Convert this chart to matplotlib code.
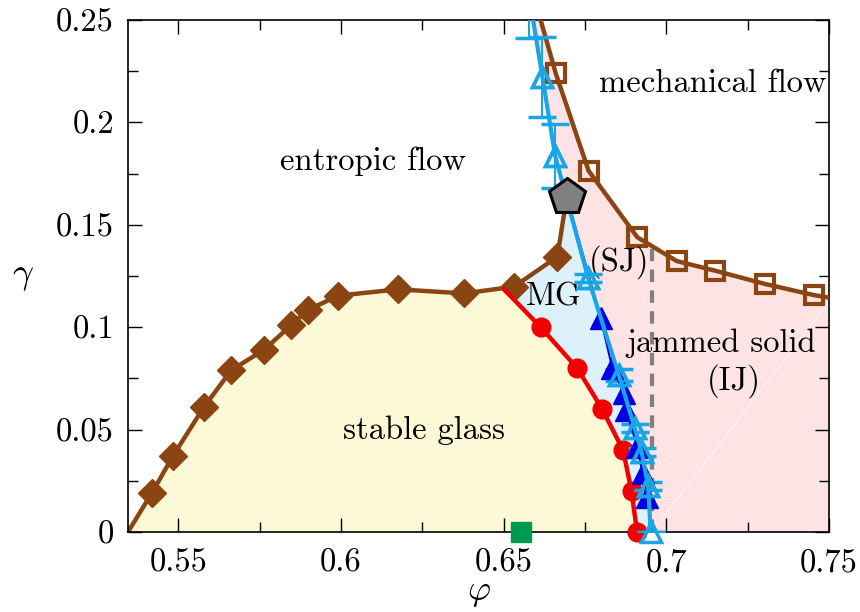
import numpy as np
import matplotlib
matplotlib.use("Agg")
import matplotlib.pyplot as plt
from matplotlib.patches import Polygon
from matplotlib.ticker import MultipleLocator, FormatStrFormatter

plt.rcParams["font.family"] = "serif"
plt.rcParams["font.serif"] = ["cmr10"]
plt.rcParams["mathtext.fontset"] = "cm"
plt.rcParams["axes.formatter.use_mathtext"] = True

# %% Phase boundaries (phi, gamma)

# stability limit of the glass (brown diamonds)
glass_phi = [0.5419, 0.5484, 0.5578, 0.5663, 0.5763, 0.5847, 0.5898,
             0.5991, 0.6176, 0.6378, 0.6532, 0.6665]
glass_gamma = [0.0192, 0.0373, 0.0609, 0.0791, 0.0889, 0.1011, 0.1084,
               0.1154, 0.1185, 0.1165, 0.1198, 0.1344]
glass_start = (0.5345, 0.0)

# yielding line of the marginal glass (red circles)
red_phi = [0.6614, 0.6726, 0.6803, 0.6867, 0.6893, 0.6910]
red_gamma = [0.10, 0.08, 0.06, 0.04, 0.02, 0.0]
red_start = (0.6501, 0.1185)

# shear jamming, filled blue triangles
sj_phi = [0.6798, 0.6834, 0.6870, 0.6876, 0.6911, 0.6927, 0.6942]
sj_gamma = [0.1045, 0.0800, 0.0677, 0.0596, 0.0417, 0.0286, 0.0172]

# shear jamming, open light-blue triangles with error bars
sj2_phi = [0.6578, 0.6619, 0.6658, 0.6760, 0.6854, 0.6903, 0.6924, 0.6944, 0.6952]
sj2_gamma = [0.262, 0.2223, 0.1838, 0.1239, 0.0767, 0.0506, 0.0392, 0.0225, 0.0]
sj2_err = [0.021, 0.0195, 0.0156, 0.002, 0.003, 0.002, 0.002, 0.002, 0.0]

# mechanical yielding of the jammed solid (brown squares)
mech_phi = [0.6660, 0.6761, 0.6911, 0.7032, 0.7150, 0.7304, 0.7453]
mech_gamma = [0.2240, 0.1764, 0.1439, 0.1323, 0.1276, 0.1211, 0.1157]
mech_top = (0.6578, 0.27)
mech_end = (0.75, 0.1145)

# critical point (pentagon), J point (green square), isostatic jamming line
crit = (0.6694, 0.1637)
phi_gcp = 0.6552
phi_j = 0.6955
phi_j_top = 0.138

# %% Figure

fig = plt.figure(figsize=(8.6, 6.12), dpi=100)
ax = fig.add_axes([0.1488, 0.1307, 0.8151, 0.8366])
ax.set_xlim(0.5345, 0.75)
ax.set_ylim(0, 0.25)

brown = "#8b4513"
red = "#f00000"
blue = "#0000e6"
lblue = "#1aa6e6"

# filled regions
yellow_pts = ([glass_start]
              + [(p, g) for p, g in zip(glass_phi, glass_gamma) if p < red_start[0]]
              + [red_start] + list(zip(red_phi, red_gamma)))
ax.add_patch(Polygon(yellow_pts, closed=True, fc="#fdf8d6", ec="none", zorder=0))

mg_pts = ([red_start] + list(zip(glass_phi[-2:], glass_gamma[-2:])) + [crit]
          + list(zip(sj_phi, sj_gamma)) + [(phi_j, 0.0)]
          + list(zip(red_phi[::-1], red_gamma[::-1])))
ax.add_patch(Polygon(mg_pts, closed=True, fc="#ddf1fa", ec="none", zorder=0))

pink_pts = ([crit] + list(zip(sj2_phi[:3][::-1], sj2_gamma[:3][::-1])) + [mech_top]
            + list(zip(mech_phi, mech_gamma)) + [mech_end, (0.75, 0.0), (phi_j, 0.0)]
            + list(zip(sj_phi[::-1], sj_gamma[::-1])))
ax.add_patch(Polygon(pink_pts, closed=True, fc="#fde3e3", ec="none", zorder=0))
ax.plot([phi_j, 0.75], [0.0, 0.1123], color="white", lw=0.5, zorder=0.5)

# isostatic jamming density
ax.plot([phi_j, phi_j], [0, phi_j_top], color="#808080", lw=3, ls=(0, (3, 2)), zorder=1)

# glass stability line
ax.plot([glass_start[0]] + glass_phi + [crit[0]],
        [glass_start[1]] + glass_gamma + [crit[1]],
        color=brown, lw=3.2, zorder=2)
ax.plot(glass_phi, glass_gamma, ls="none", marker="D", ms=14.5, color=brown, zorder=3)

# red line
ax.plot([red_start[0]] + red_phi, [red_start[1]] + red_gamma, color=red, lw=3.2,
        marker="o", ms=13.5, markevery=list(range(1, len(red_phi) + 1)), zorder=3,
        clip_on=False)

# shear jamming lines
ax.errorbar(sj2_phi, sj2_gamma, yerr=sj2_err, color=lblue, lw=3, elinewidth=1.5,
            capsize=10, capthick=1.5, marker="^", ms=15, mfc="none", mew=2.5,
            zorder=4)
ax.plot([crit[0]] + sj_phi + [phi_j], [crit[1]] + sj_gamma + [0.0],
        color=blue, lw=1.5, zorder=4)
ax.plot(sj_phi, sj_gamma, ls="none", marker="^", ms=16, color=blue, zorder=4)
# redraw the open triangles on top of the filled ones
ax.plot(sj2_phi, sj2_gamma, ls="none", marker="^", ms=15, mfc="none", mec=lblue,
        mew=2.5, zorder=5)
ax.plot(sj2_phi[-1], sj2_gamma[-1], ls="none", marker="^", ms=15, mfc="none",
        mec=lblue, mew=2.5, zorder=5, clip_on=False)

# mechanical yielding line
ax.plot([mech_top[0]] + mech_phi + [mech_end[0]],
        [mech_top[1]] + mech_gamma + [mech_end[1]], color=brown, lw=3.2, zorder=3)
ax.plot(mech_phi, mech_gamma, ls="none", marker="s", ms=12.5, mfc="none",
        mec=brown, mew=3, zorder=3)

ax.plot(*crit, marker="p", ms=27, mfc="#808080", mec="black", mew=2.2, zorder=6)
ax.plot(phi_gcp, 0.0, marker="s", ms=15, color="#009a4e", ls="none",
        zorder=6, clip_on=False)

# region labels
fs = 23.5
ax.text(0.6097, 0.1811, "entropic flow", fontsize=fs, ha="center", va="center")
ax.text(0.7143, 0.2192, "mechanical flow", fontsize=fs, ha="center", va="center")
ax.text(0.6254, 0.0498, "stable glass", fontsize=fs, ha="center", va="center")
ax.text(0.6654, 0.1147, "MG", fontsize=fs, ha="center", va="center")
ax.text(0.6854, 0.1318, "(SJ)", fontsize=fs, ha="center", va="center")
ax.text(0.7168, 0.0923, "jammed solid", fontsize=fs, ha="center", va="center")
ax.text(0.7208, 0.0737, "(IJ)", fontsize=fs, ha="center", va="center")

ax.xaxis.set_major_locator(MultipleLocator(0.05))
ax.xaxis.set_minor_locator(MultipleLocator(0.025))
ax.yaxis.set_major_locator(MultipleLocator(0.05))
ax.yaxis.set_minor_locator(MultipleLocator(0.025))
ax.xaxis.set_major_formatter(FormatStrFormatter("%g"))
ax.yaxis.set_major_formatter(FormatStrFormatter("%g"))
ax.tick_params(which="both", direction="in", top=True, right=True, labelsize=fs,
               width=1)
ax.tick_params(which="major", length=10)
ax.tick_params(axis="x", which="major", pad=12)
ax.tick_params(axis="y", which="major", pad=10)
ax.tick_params(which="minor", length=7)
for s in ax.spines.values():
    s.set_linewidth(1.2)

ax.set_xlabel(r"$\varphi$", fontsize=fs + 2, labelpad=0)
ax.set_ylabel(r"$\gamma$", fontsize=fs + 3, rotation=0, labelpad=24, va="center")

fig.savefig("out.png", dpi=100)
